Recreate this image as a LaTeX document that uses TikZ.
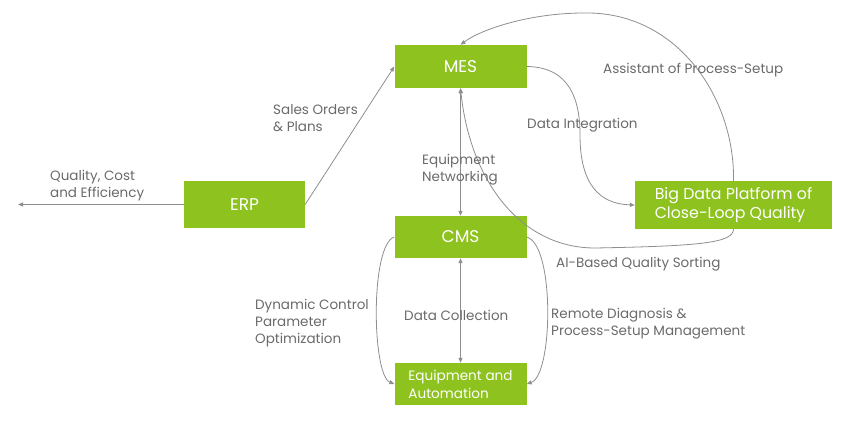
\documentclass[tikz,border=0pt]{standalone}
\usepackage{fontspec}
\setmainfont{Poppins}
\usetikzlibrary{arrows.meta}
\definecolor{leaf}{HTML}{8DC21F}
\definecolor{wire}{HTML}{8E8E8E}
\definecolor{note}{HTML}{6A6A6A}
\begin{document}
\begin{tikzpicture}[x=1pt,y=-1pt,
  box/.style={fill=leaf, draw=none, text=white, font=\fontsize{17}{20}\selectfont,
    align=left, inner sep=0pt},
  lbl/.style={text=note, font=\fontsize{13.5}{17}\selectfont, align=left,
    anchor=west, inner sep=0pt, yshift=-1.5pt},
  link/.style={draw=wire, line width=0.8pt, -{Triangle[length=5pt,width=4pt]}},
  both/.style={draw=wire, line width=0.8pt,
    {Triangle[length=5pt,width=4pt]}-{Triangle[length=5pt,width=4pt]}}]
\useasboundingbox (0,0) rectangle (842,421);

% systems
\node[box, minimum width=132pt, minimum height=43pt] (mes) at (460.5,66.5) {MES};
\node[box, minimum width=132pt, minimum height=42pt] (cms) at (460.5,237) {CMS};
\node[box, minimum width=132pt, minimum height=42pt,
  font=\fontsize{13.6}{18}\selectfont] (equip) at (460.5,384)
  {Equipment and\\Automation};
\node[box, minimum width=121pt, minimum height=47pt] (erp) at (244.5,204.5) {ERP};
\node[box, minimum width=197pt, minimum height=48pt,
  font=\fontsize{15.8}{19}\selectfont] (bd) at (733.5,205)
  {Big Data Platform of\\Close-Loop Quality};
\coordinate (out) at (18,204.5);

% connectors
\draw[link] (erp.west) -- (out);
\draw[link] (erp.east) -- (mes.west);
\draw[both] (mes.south) -- (cms.north);
\draw[both] (cms.south) -- (equip.north);
\draw[link] (mes.east) .. controls (570,67) and (580,100) .. (580,135)
  .. controls (580,185) and (600,204) .. (bd.west);
\draw[link] (bd.north) .. controls (735,100) and (680,15) .. (590,13)
  .. controls (530,12) and (480,30) .. (mes.north);
\draw[link] (bd.south) .. controls (733,243) and (700,246) .. (595,248)
  .. controls (520,248) and (470,180) .. (mes.south);
\draw[link] (cms.west) .. controls (370,245) and (372,375) .. (equip.west);
\draw[link] (cms.east) .. controls (555,245) and (553,375) .. (equip.east);

% connector labels
\node[lbl] (l1) at (50,184.5) {Quality, Cost\\and Efficiency};
\node[lbl] (l2) at (273,116.5) {Sales Orders\\\& Plans};
\node[lbl] (l3) at (422,168.5) {Equipment\\Networking};
\node[lbl] (l4) at (527,124) {Data Integration};
\node[lbl] (l5) at (603,69) {Assistant of Process-Setup};
\node[lbl] (l6) at (556,263) {AI-Based Quality Sorting};
\node[lbl] (l7) at (255,322) {Dynamic Control\\Parameter\\Optimization};
\node[lbl] (l8) at (404,314) {Data Collection};
\node[lbl] (l9) at (551,322) {Remote Diagnosis \&\\Process-Setup Management};
\end{tikzpicture}
\end{document}
